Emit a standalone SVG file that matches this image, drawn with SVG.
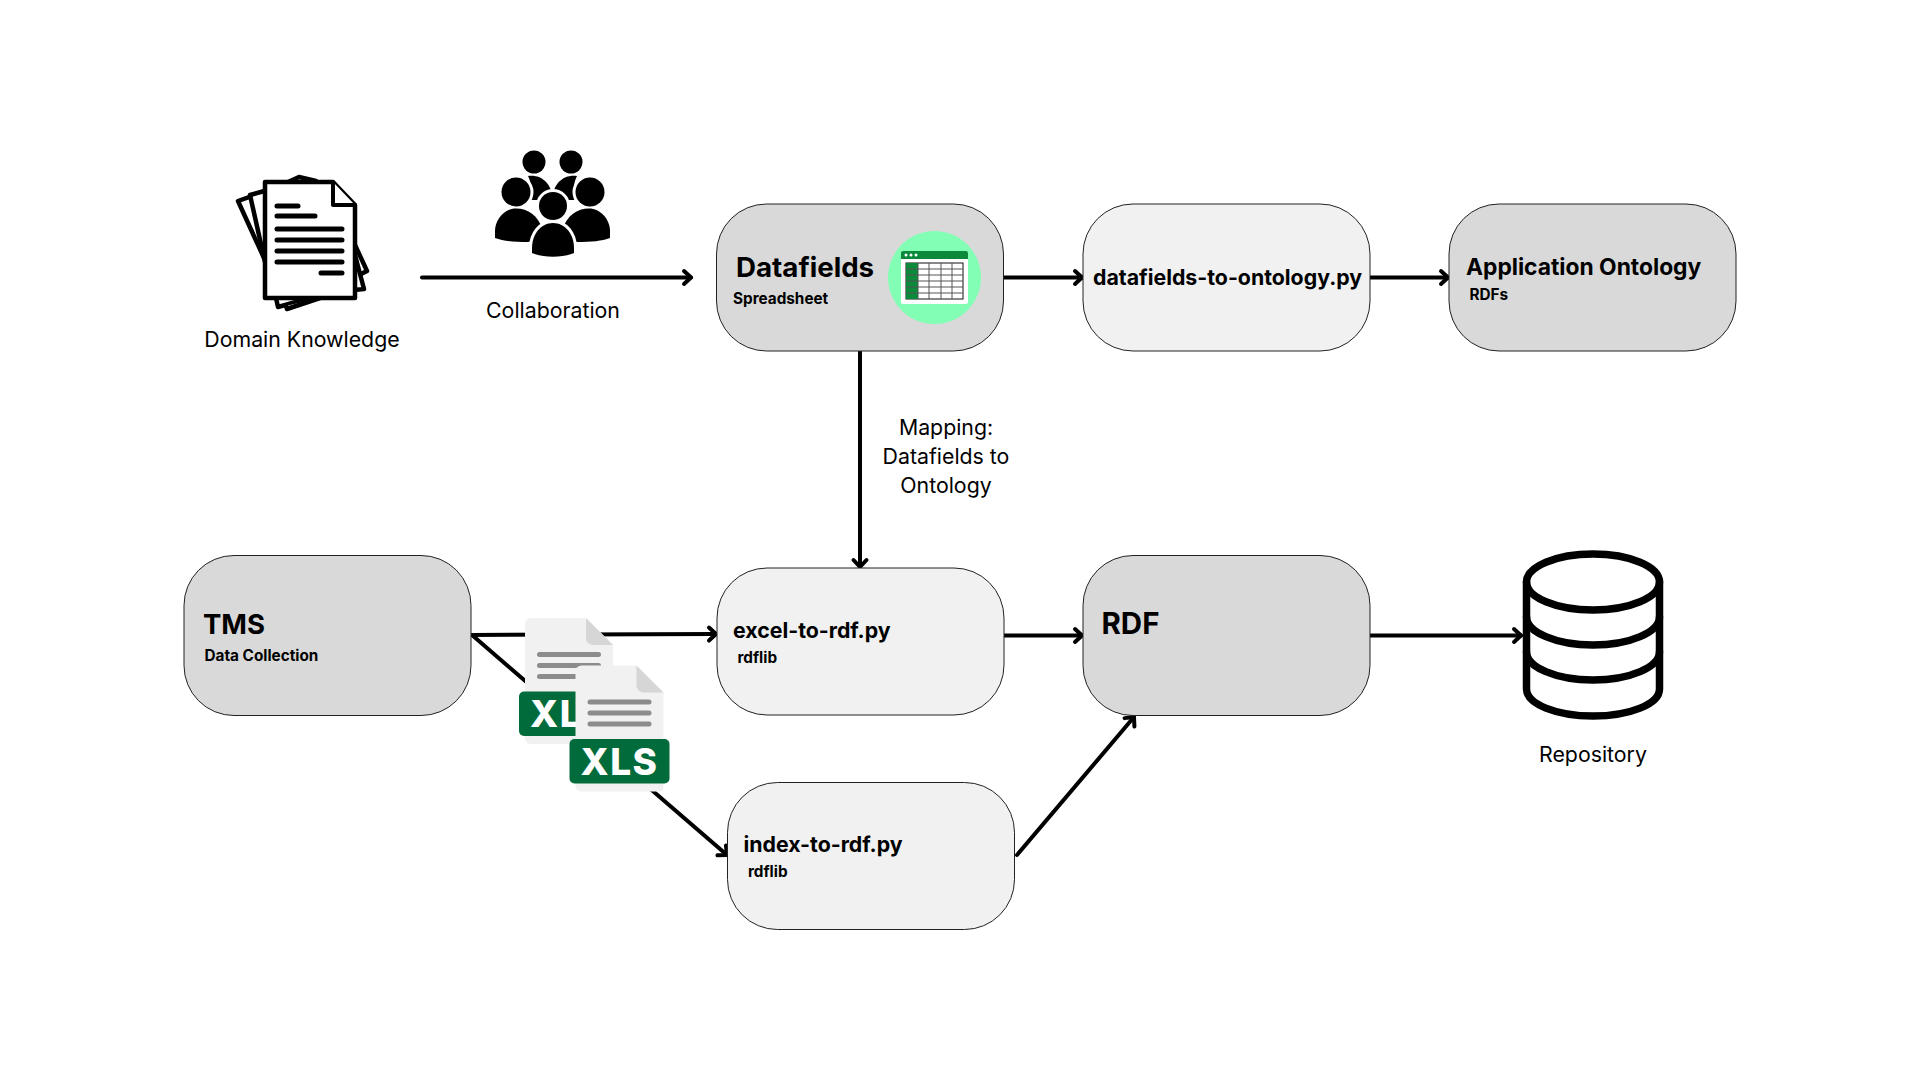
<svg xmlns="http://www.w3.org/2000/svg" width="1920" height="1080" viewBox="0 0 1920 1080">
<style>
text{font-family:"Inter","Liberation Sans",sans-serif;fill:#000}
.n{stroke:#222;stroke-width:1}
.d{fill:#d9d9d9}
.l{fill:#f1f1f1}
.c{fill:none;stroke:#000;stroke-width:4;stroke-linecap:round;stroke-linejoin:round}
.t{font-size:21.300px;font-weight:400;text-anchor:middle}
.h{font-size:24px;font-weight:700}
.s{font-size:15.300px;font-weight:700}
.p{font-size:21.300px;font-weight:700}
.i{fill:none;stroke:#000;stroke-linejoin:round;stroke-linecap:round}
.bar{fill:#8c8c8c}
</style>
<defs>
<marker id="a" markerUnits="userSpaceOnUse" markerWidth="18" markerHeight="20" refX="12" refY="10" orient="auto" overflow="visible"><path d="M5 3.500L12 10L5 16.500" fill="none" stroke="#000" stroke-width="4" stroke-linecap="round" stroke-linejoin="round"/></marker>
<g id="xlsdoc">
<path d="M6 0H61L88 27V122a4 4 0 0 1-4 4H6a6 6 0 0 1-6-6V6a6 6 0 0 1 6-6Z" fill="#f1f1f1"/>
<path d="M61 0L88 27H68a7 7 0 0 1-7-7Z" fill="#d6d6d6"/>
<rect x="12" y="34" width="64" height="5" rx="2.500" class="bar"/>
<rect x="12" y="45" width="64" height="5" rx="2.500" class="bar"/>
<rect x="12" y="56" width="64" height="5" rx="2.500" class="bar"/>
<rect x="-6" y="73.500" width="100" height="44.500" rx="5" fill="#026b3c"/>
<text x="44" y="109" text-anchor="middle" style="font-size:37px;font-weight:800;letter-spacing:1.500px;fill:#fff">XLS</text>
</g>
</defs>
<rect width="1920" height="1080" fill="#fff"/>

<g id="connectors">
<path class="c" marker-end="url(#a)" d="M422 277.500H691"/>
<path class="c" marker-end="url(#a)" d="M1004 277.500H1082"/>
<path class="c" marker-end="url(#a)" d="M1370 277.500H1448"/>
<path class="c" marker-end="url(#a)" d="M860 352V567"/>
<path class="c" marker-end="url(#a)" d="M472 635L716 634"/>
<path class="c" marker-end="url(#a)" d="M472 635L727 855"/>
<path class="c" marker-end="url(#a)" d="M1004 635.500H1082"/>
<path class="c" marker-end="url(#a)" d="M1370 635.500H1521"/>
<path class="c" marker-end="url(#a)" d="M1017 855L1134 717"/>
</g>

<g id="domain-knowledge">
<g class="i" stroke-width="4.500">
<path d="M263 192L238 201L264 258" fill="#fff"/>
<path d="M268 190L250 195L265 262" fill="#fff"/>
<path d="M288 182L299 177L316 181" fill="#fff"/>
<path d="M355 245L367 271L355 277" fill="#fff"/>
<path d="M355 255L364 289L354 290" fill="#fff"/>
<path d="M276 298L278 307L310 298" fill="#fff"/>
<path d="M286 306L287 309L320 298" fill="#fff"/>
<path d="M265 182H333L355 205V298H265Z" fill="#fff"/>
<path d="M333 182V205H355" fill="#fff" stroke-width="4"/>
<path d="M277 206H298M277 216H315M277 229H342M277 240H342M277 251H342M277 262H342M321 273H342" stroke-width="5"/>
</g>
<text class="t" x="302" y="346.500">Domain Knowledge</text>
</g>

<g id="collaboration">
<circle cx="534" cy="162" r="11.500"/>
<circle cx="571" cy="162" r="11.500"/>
<path d="M528 176C540 174 552 182 553 200H530C532 192 532 184 528 176Z"/>
<path d="M577 176C565 174 553 182 552 200H575C573 192 573 184 577 176Z"/>
<circle cx="516" cy="192" r="14.500" stroke="#fff" stroke-width="6" paint-order="stroke"/>
<circle cx="590" cy="192" r="14.500" stroke="#fff" stroke-width="6" paint-order="stroke"/>
<path d="M495 238V231C495 219 505 208.500 516 208.500C528 208.500 538 216 542 228C540 236 530 242 528 242C514 242 503 241 495 238Z"/>
<path d="M610 238V231C610 219 600 208.500 589 208.500C577 208.500 567 216 563 228C565 236 575 242 577 242C591 242 602 241 610 238Z"/>
<circle cx="553" cy="206" r="14" stroke="#fff" stroke-width="6" paint-order="stroke"/>
<path d="M532 253V248C532 234 541 223 553 223C565 223 574 234 574 248V253C562 258 544 258 532 253Z" stroke="#fff" stroke-width="6" paint-order="stroke"/>
<text class="t" x="553" y="317.500">Collaboration</text>
</g>

<g id="datafields">
<rect class="n d" x="716.500" y="204" width="287" height="147" rx="50"/>
<text x="736" y="277" style="font-size:27.700px;font-weight:700">Datafields</text>
<text class="s" x="733" y="304">Spreadsheet</text>
<circle cx="934.500" cy="277.500" r="46.500" fill="#82ffb4"/>
<rect x="901" y="251" width="67" height="53" rx="2" fill="#fff"/>
<path d="M901 259V253a2 2 0 0 1 2-2H966a2 2 0 0 1 2 2V259Z" fill="#0b8a3c"/>
<circle cx="906" cy="255" r="1.500" fill="#fff"/><circle cx="911" cy="255" r="1.500" fill="#fff"/><circle cx="916" cy="255" r="1.500" fill="#fff"/>
<rect x="906" y="263" width="57" height="36" fill="#fff" stroke="#111" stroke-width="1"/>
<rect x="906" y="263" width="12" height="36" fill="#0b8a3c"/>
<path d="M906 269H963M906 275H963M906 281H963M906 287H963M906 293H963M918 263V299M929 263V299M941 263V299M952 263V299" stroke="#555" stroke-width="1" fill="none"/>
</g>

<g id="datafields-to-ontology">
<rect class="n l" x="1083" y="204" width="287" height="147" rx="50"/>
<text class="p" x="1093" y="285">datafields-to-ontology.py</text>
</g>

<g id="application-ontology">
<rect class="n d" x="1449" y="204" width="287" height="147" rx="50"/>
<text x="1466" y="275" style="font-size:22.800px;font-weight:700">Application Ontology</text>
<text class="s" x="1469.500" y="300">RDFs</text>
</g>

<g id="tms">
<rect class="n d" x="184" y="555.500" width="287" height="160" rx="50"/>
<text class="h" x="203" y="634" style="font-size:27.500px">TMS</text>
<text class="s" x="204.500" y="661">Data Collection</text>
</g>

<g id="excel-to-rdf">
<rect class="n l" x="717" y="568" width="287" height="147" rx="50"/>
<text class="p" x="733" y="638">excel-to-rdf.py</text>
<text class="s" x="737.500" y="663">rdflib</text>
</g>

<g id="rdf">
<rect class="n d" x="1083" y="555.500" width="287" height="160" rx="50"/>
<text class="h" x="1101.500" y="634" style="font-size:29.500px">RDF</text>
</g>

<g id="index-to-rdf">
<rect class="n l" x="727.500" y="782.500" width="287" height="147" rx="50"/>
<text class="p" x="743.500" y="852">index-to-rdf.py</text>
<text class="s" x="748" y="877">rdflib</text>
</g>

<g id="xls-files">
<use href="#xlsdoc" x="525" y="618"/>
<use href="#xlsdoc" x="575.500" y="665.500"/>
</g>

<g id="repository">
<g class="i" stroke-width="7.500">
<ellipse cx="1593" cy="582" rx="66.500" ry="28"/>
<path d="M1526.500 582V689C1526.500 704 1556 716 1593 716C1630 716 1659.500 704 1659.500 689V582"/>
<path d="M1526.500 617C1526.500 632 1556 645 1593 645C1630 645 1659.500 632 1659.500 617"/>
<path d="M1526.500 652C1526.500 667 1556 680 1593 680C1630 680 1659.500 667 1659.500 652"/>
</g>
<text class="t" x="1593" y="761.500">Repository</text>
</g>

<g id="mapping-label">
<text class="t" x="946" y="434.500">Mapping:</text>
<text class="t" x="946" y="463.500">Datafields to</text>
<text class="t" x="946" y="492.500">Ontology</text>
</g>
</svg>
